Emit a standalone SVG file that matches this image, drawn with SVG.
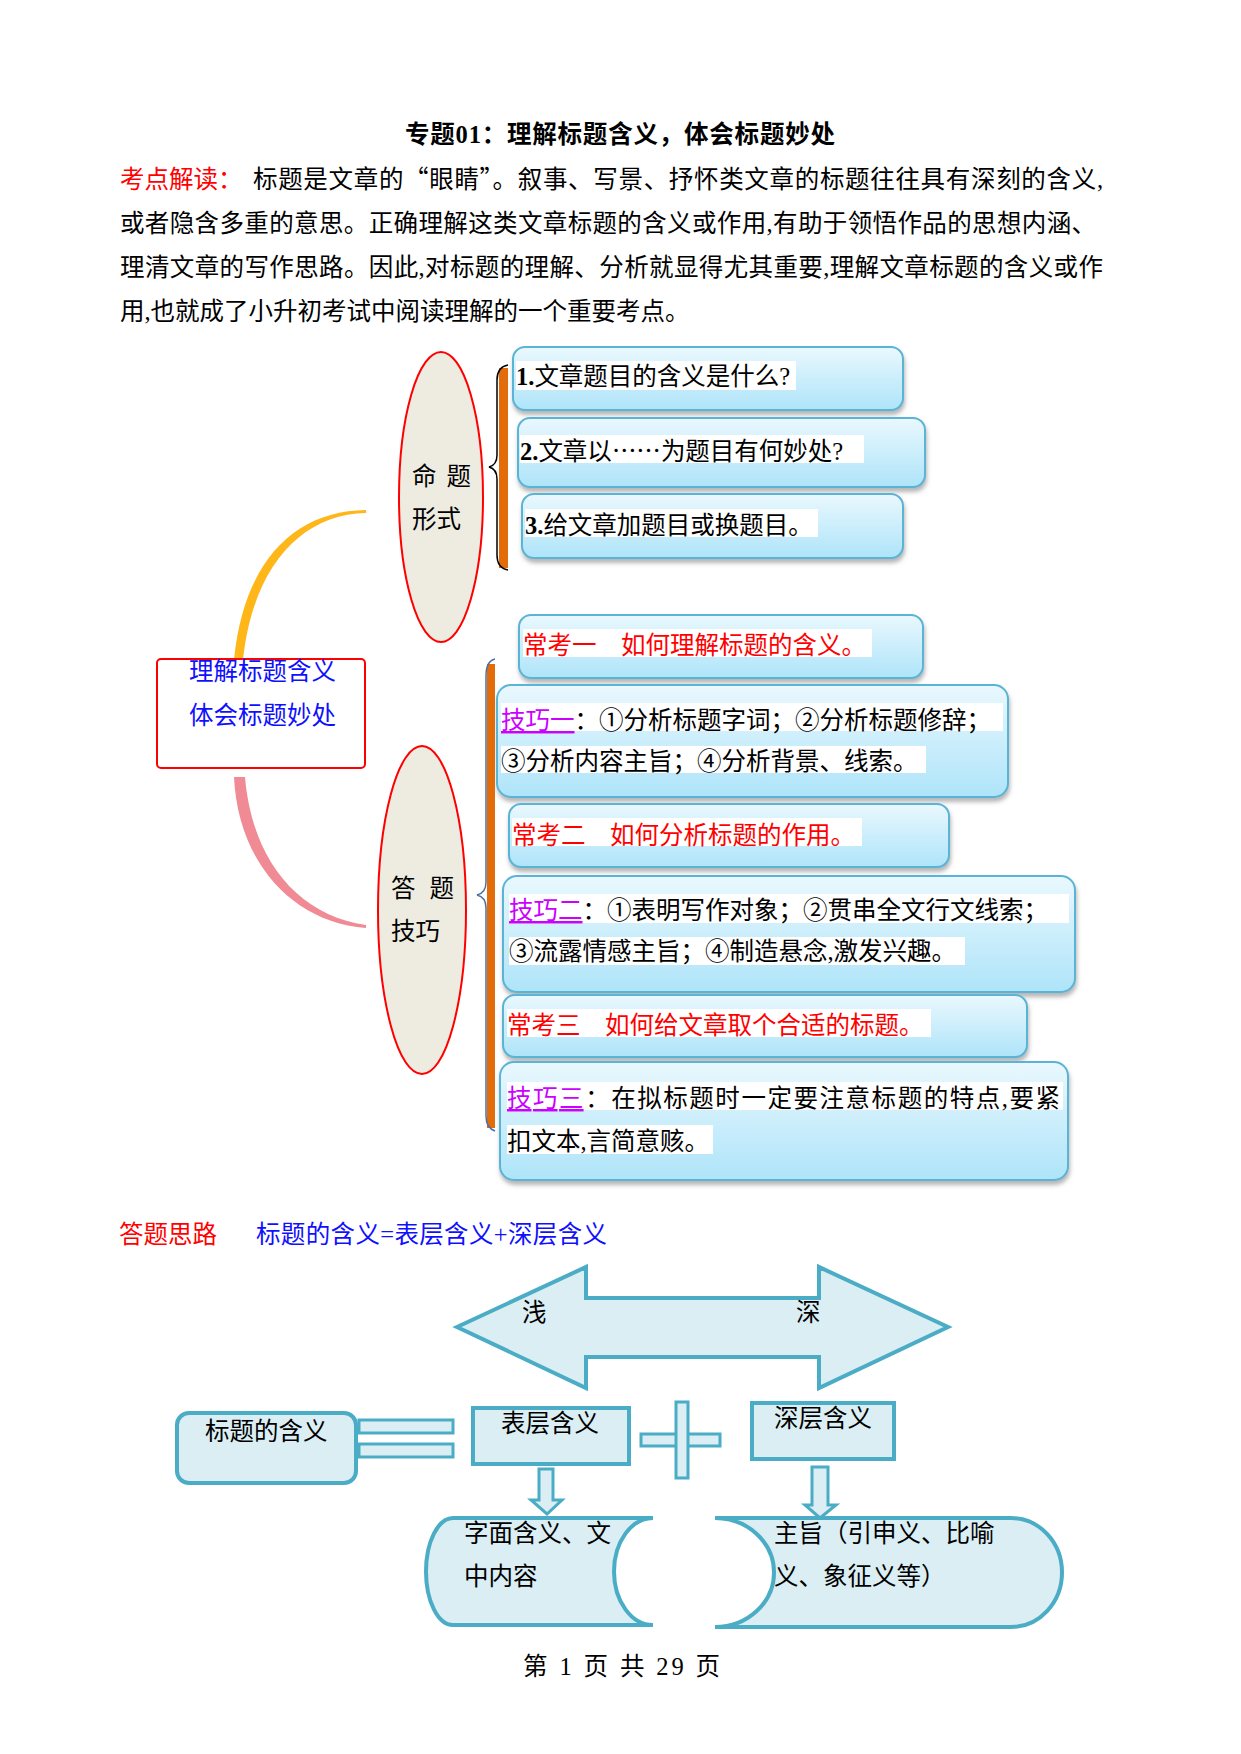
<svg xmlns="http://www.w3.org/2000/svg" width="1241" height="1754" viewBox="0 0 1241 1754">
<defs>
<linearGradient id="boxg" x1="0" y1="0" x2="0" y2="1">
<stop offset="0" stop-color="#EAF8FE"/>
<stop offset="1" stop-color="#AEE4F9"/>
</linearGradient>
<filter id="shd" x="-5%" y="-10%" width="115%" height="135%">
<feDropShadow dx="1" dy="4" stdDeviation="2" flood-color="#7a7a7a" flood-opacity="0.55"/>
</filter>
<style>
text{font-family:"Liberation Serif","Noto Sans CJK SC",serif;font-size:24.5px;fill:#000}
.cjk{font-family:"Noto Sans CJK SC",sans-serif}
.red{fill:#FF0000}
.blue{fill:#1010FF}
.mag{fill:#CC00FF;text-decoration:underline}
.box{fill:url(#boxg);stroke:#5AB4D6;stroke-width:2;filter:url(#shd)}
.hl{fill:#FFFFFF}
.ell{fill:#EEEBE0;stroke:#FF0000;stroke-width:2}
.tq{fill:#DAEEF3;stroke:#4BACC6;stroke-width:4}
.tq3{fill:#DAEEF3;stroke:#4BACC6;stroke-width:3}
</style>
</defs>
<rect width="1241" height="1754" fill="#FFFFFF"/>

<g id="header">
<text x="405" y="143" font-weight="bold" font-size="25" textLength="430" lengthAdjust="spacing">专题01：理解标题含义，体会标题妙处</text>
<text x="120" y="188" class="red">考点解读：</text>
<text x="253" y="188" textLength="850" lengthAdjust="spacing">标题是文章的<tspan class="cjk">“</tspan>眼睛<tspan class="cjk">”</tspan>。叙事、写景、抒怀类文章的标题往往具有深刻的含义,</text>
<text x="120" y="232" textLength="976" lengthAdjust="spacing">或者隐含多重的意思。正确理解这类文章标题的含义或作用,有助于领悟作品的思想内涵、</text>
<text x="120" y="276" textLength="983" lengthAdjust="spacing">理清文章的写作思路。因此,对标题的理解、分析就显得尤其重要,理解文章标题的含义或作</text>
<text x="120" y="320">用,也就成了小升初考试中阅读理解的一个重要考点。</text>
</g>

<g id="connectors">
<path d="M366,510 C295,511 244,560 234,660 L243,660 C253,566 302,514 366,513 Z" fill="#FFB619"/>
<path d="M234,777 C238,862 292,922 366,928 L366,925 C298,915 252,860 245,777 Z" fill="#F08A94"/>
<rect x="499" y="368" width="9" height="200" fill="#E36C0A"/>
<path d="M508,365 Q497,367 497,380 L497,455 Q497,465 489,467 Q497,469 497,479 L497,555 Q497,568 508,570" fill="none" stroke="#000000" stroke-width="1.5"/>
<rect x="487" y="664" width="8" height="464" fill="#E36C0A"/>
<path d="M495,659 Q486,661 486,676 L486,882 Q486,893 477,895 Q486,897 486,908 L486,1116 Q486,1128 495,1131" fill="none" stroke="#4A6FA5" stroke-width="1.5"/>
</g>

<g id="node-center">
<rect x="157" y="659" width="208" height="109" rx="4" fill="#FFFFFF" stroke="#FF0000" stroke-width="2"/>
<text x="189" y="680" class="blue">理解标题含义</text>
<text x="189" y="724" class="blue">体会标题妙处</text>
</g>

<g id="node-mingti">
<ellipse cx="441" cy="497" rx="42" ry="145" class="ell"/>
<text x="412" y="485" xml:space="preserve" textLength="59" lengthAdjust="spacing">命 题</text>
<text x="412" y="528">形式</text>
</g>

<g id="node-dati">
<ellipse cx="422" cy="910" rx="44" ry="164" class="ell"/>
<text x="391" y="897" xml:space="preserve" textLength="63" lengthAdjust="spacing">答 题</text>
<text x="391" y="940">技巧</text>
</g>

<g id="box1">
<rect x="513" y="347" width="390" height="63" rx="12" class="box"/>
<rect x="516" y="361" width="280" height="29" class="hl"/>
<text x="516" y="385"><tspan font-weight="bold">1.</tspan>文章题目的含义是什么?</text>
</g>
<g id="box2">
<rect x="518" y="418" width="407" height="69" rx="12" class="box"/>
<rect x="520" y="435" width="344" height="28" class="hl"/>
<text x="520" y="460"><tspan font-weight="bold">2.</tspan>文章以<tspan class="cjk">……</tspan>为题目有何妙处?</text>
</g>
<g id="box3">
<rect x="522" y="494" width="381" height="64" rx="12" class="box"/>
<rect x="525" y="509" width="293" height="28" class="hl"/>
<text x="525" y="534"><tspan font-weight="bold">3.</tspan>给文章加题目或换题目。</text>
</g>

<g id="box-changkao1">
<rect x="519" y="615" width="404" height="63" rx="12" class="box"/>
<rect x="523" y="629" width="349" height="28" class="hl"/>
<text x="523" y="654" class="red">常考一　如何理解标题的含义。</text>
</g>
<g id="box-jiqiao1">
<rect x="497" y="685" width="511" height="112" rx="14" class="box"/>
<rect x="501" y="703" width="502" height="28" class="hl"/>
<rect x="501" y="746" width="425" height="27" class="hl"/>
<text x="501" y="729"><tspan class="mag">技巧一</tspan>：①分析标题字词；②分析标题修辞；</text>
<text x="501" y="770">③分析内容主旨；④分析背景、线索。</text>
</g>
<g id="box-changkao2">
<rect x="509" y="804" width="440" height="63" rx="12" class="box"/>
<rect x="512" y="818" width="350" height="28" class="hl"/>
<text x="512" y="844" class="red">常考二　如何分析标题的作用。</text>
</g>
<g id="box-jiqiao2">
<rect x="503" y="876" width="572" height="116" rx="14" class="box"/>
<rect x="509" y="894" width="560" height="29" class="hl"/>
<rect x="509" y="937" width="456" height="28" class="hl"/>
<text x="509" y="919"><tspan class="mag">技巧二</tspan>：①表明写作对象；②贯串全文行文线索；</text>
<text x="509" y="960">③流露情感主旨；④制造悬念,激发兴趣。</text>
</g>
<g id="box-changkao3">
<rect x="503" y="995" width="524" height="62" rx="12" class="box"/>
<rect x="507" y="1009" width="424" height="28" class="hl"/>
<text x="507" y="1034" class="red">常考三　如何给文章取个合适的标题。</text>
</g>
<g id="box-jiqiao3">
<rect x="500" y="1062" width="568" height="118" rx="14" class="box"/>
<rect x="507" y="1082" width="556" height="28" class="hl"/>
<rect x="507" y="1125" width="206" height="29" class="hl"/>
<text x="507" y="1107" textLength="553" lengthAdjust="spacing"><tspan class="mag">技巧三</tspan>：在拟标题时一定要注意标题的特点,要紧</text>
<text x="507" y="1150">扣文本,言简意赅。</text>
</g>

<g id="section2-title">
<text x="119" y="1243" class="red">答题思路</text>
<text x="256" y="1243" class="blue" textLength="351" lengthAdjust="spacing">标题的含义=表层含义+深层含义</text>
</g>

<g id="double-arrow">
<polygon points="457,1327 586,1267 586,1298 819,1298 819,1267 948,1327 819,1388 819,1357 586,1357 586,1388" class="tq"/>
<text x="522" y="1321">浅</text>
<text x="796" y="1321">深</text>
</g>

<g id="node-meaning">
<rect x="177" y="1413" width="179" height="70" rx="12" class="tq"/>
<text x="205" y="1440">标题的含义</text>
</g>
<g id="equals">
<rect x="359" y="1420" width="94" height="13" class="tq3"/>
<rect x="359" y="1444" width="94" height="13" class="tq3"/>
</g>
<g id="node-surface">
<rect x="473" y="1408" width="156" height="56" class="tq"/>
<text x="501" y="1432">表层含义</text>
</g>
<g id="plus">
<rect x="641" y="1434" width="79" height="12" class="tq3"/>
<rect x="676" y="1402" width="12" height="76" class="tq3"/>
</g>
<g id="node-deep">
<rect x="752" y="1403" width="142" height="56" class="tq"/>
<text x="774" y="1427">深层含义</text>
</g>
<g id="down-arrows">
<polygon points="539,1469 553,1469 553,1500 562,1500 547,1514 531,1500 539,1500" class="tq3"/>
<polygon points="812,1467 828,1467 828,1505 836,1505 820,1518 805,1505 812,1505" class="tq3"/>
</g>
<g id="node-literal">
<path d="M453,1518 L653,1518 A39,53.5 0 0 0 653,1625 L453,1625 A27,53.5 0 0 1 453,1518 Z" class="tq"/>
<text x="464" y="1542">字面含义、文</text>
<text x="464" y="1585">中内容</text>
</g>
<g id="node-theme">
<path d="M715,1518 L1011,1518 A51,54.5 0 0 1 1011,1627 L715,1627 A59,54.5 0 0 0 715,1518 Z" class="tq"/>
<text x="774" y="1542">主旨（引申义、比喻</text>
<text x="774" y="1585">义、象征义等）</text>
</g>

<g id="footer">
<text x="523" y="1675" font-size="21" textLength="197" lengthAdjust="spacing" xml:space="preserve">第 1 页 共 29 页</text>
</g>
</svg>
